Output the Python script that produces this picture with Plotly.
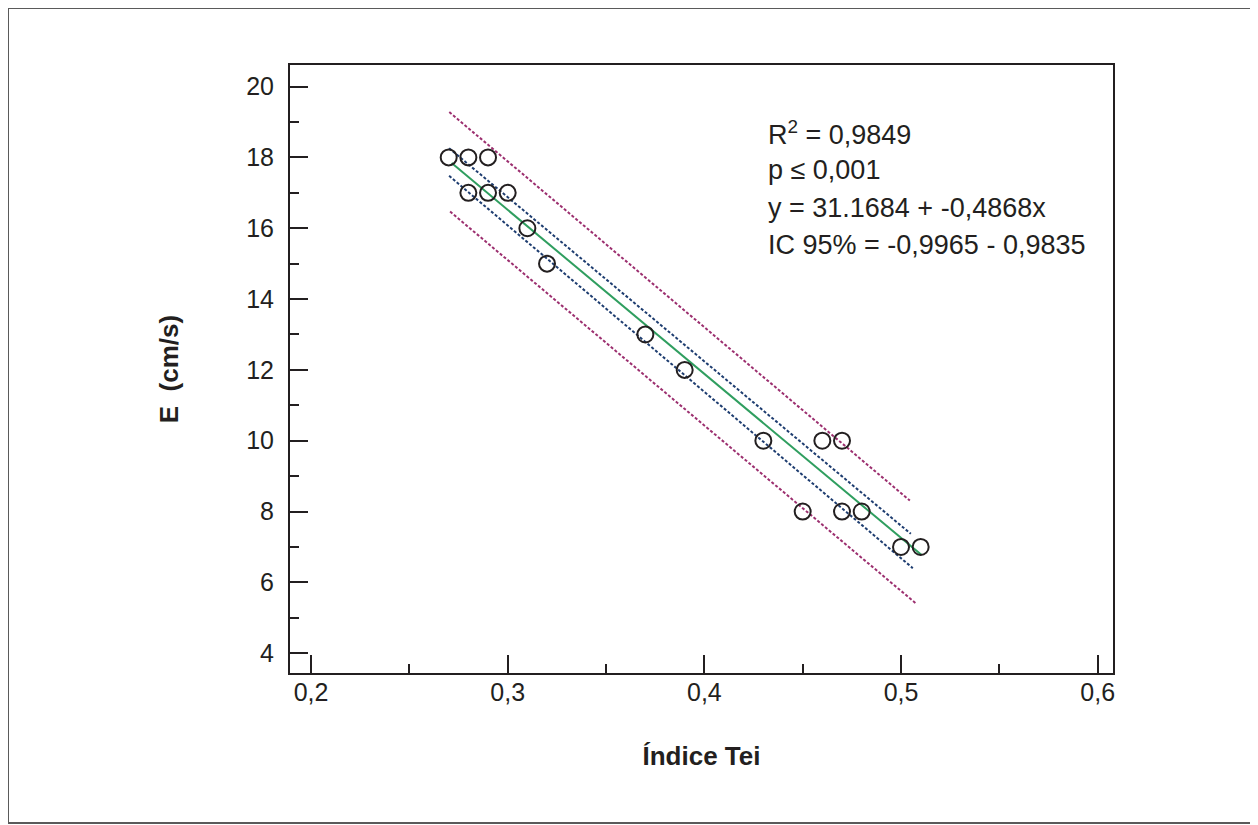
import plotly.graph_objects as go

# ---- data ----
x_tei = [0.27, 0.28, 0.29, 0.28, 0.29, 0.30, 0.31, 0.32, 0.37, 0.39,
         0.43, 0.46, 0.47, 0.45, 0.47, 0.48, 0.50, 0.51]
y_e = [18, 18, 18, 17, 17, 17, 16, 15, 13, 12,
       10, 10, 10, 8, 8, 8, 7, 7]

fit_x = [0.2715, 0.5105]
fit_y = [17.84, 6.77]

ci_up_x = [0.2702, 0.5050]
ci_up_y = [18.26, 7.37]
ci_lo_x = [0.2702, 0.5060]
ci_lo_y = [17.48, 6.40]

pi_up_x = [0.2703, 0.5045]
pi_up_y = [19.28, 8.31]
pi_lo_x = [0.2707, 0.5079]
pi_lo_y = [16.47, 5.39]

x_ticks = [0.2, 0.3, 0.4, 0.5, 0.6]
y_ticks = [4, 6, 8, 10, 12, 14, 16, 18, 20]

stats_lines = ["R<sup>2</sup> = 0,9849", "p \u2264 0,001",
               "y = 31.1684 + -0,4868x", "IC 95% = -0,9965 - 0,9835"]

# ---- figure (page body has an 8px margin, so all pixel positions are shifted) ----
OFF = 8
W, H = 1258 - OFF, 825 - OFF
L, T = 290 - OFF, 65 - OFF
R, B = W - (1113 - OFF), H - (673 - OFF)
pw, ph = W - L - R, H - T - B

FONT = "Liberation Sans, Arial, sans-serif"
INK = "#231f20"
GREEN = "#2f9e5f"
NAVY = "#1e3d70"
PURPLE = "#9c2f6f"
DASH = "3px,2px"

fig = go.Figure()
fig.add_trace(go.Scatter(x=pi_up_x, y=pi_up_y, mode="lines",
                         line=dict(color=PURPLE, width=2, dash=DASH), showlegend=False))
fig.add_trace(go.Scatter(x=pi_lo_x, y=pi_lo_y, mode="lines",
                         line=dict(color=PURPLE, width=2, dash=DASH), showlegend=False))
fig.add_trace(go.Scatter(x=ci_up_x, y=ci_up_y, mode="lines",
                         line=dict(color=NAVY, width=2, dash=DASH), showlegend=False))
fig.add_trace(go.Scatter(x=ci_lo_x, y=ci_lo_y, mode="lines",
                         line=dict(color=NAVY, width=2, dash=DASH), showlegend=False))
fig.add_trace(go.Scatter(x=fit_x, y=fit_y, mode="lines",
                         line=dict(color=GREEN, width=2), showlegend=False))
fig.add_trace(go.Scatter(x=x_tei, y=y_e, mode="markers",
                         marker=dict(symbol="circle-open", size=16, color=INK,
                                     line=dict(width=2, color=INK)),
                         showlegend=False))

axis_common = dict(showline=True, linecolor=INK, linewidth=2, mirror=True,
                   showgrid=False, zeroline=False, ticks="inside", tickwidth=2,
                   tickcolor=INK, ticklen=18,
                   tickfont=dict(family=FONT, size=25, color=INK))

fig.update_xaxes(range=[0.1893, 0.6078], tickvals=x_ticks, tickformat=".1f",
                 minor=dict(ticks="inside", ticklen=9, tickwidth=2, tickcolor=INK,
                            tickvals=[0.25, 0.35, 0.45, 0.55]),
                 ticklabelstandoff=-4,
                 title=dict(text="<b>Índice Tei</b>", standoff=42,
                            font=dict(family=FONT, size=26, color=INK)),
                 **axis_common)
fig.update_yaxes(range=[3.44, 20.61], tickvals=y_ticks,
                 minor=dict(ticks="inside", ticklen=9, tickwidth=2, tickcolor=INK,
                            tickvals=[5, 7, 9, 11, 13, 15, 17, 19]),
                 ticklabelstandoff=9,
                 title=dict(text="<b>E  (cm/s)</b>", standoff=60,
                            font=dict(family=FONT, size=26, color=INK)),
                 **axis_common)

line_px = [132.5, 170, 208, 245]
for txt, ypx in zip(stats_lines, line_px):
    fig.add_annotation(text=txt, xref="paper", yref="paper",
                       x=(766 - OFF - L) / pw, y=(H - B - (ypx - OFF)) / ph,
                       xanchor="left", yanchor="middle", showarrow=False,
                       font=dict(family=FONT, size=27, color=INK))

# outer frame
fig.add_shape(type="rect", xref="paper", yref="paper",
              x0=(8 - OFF - L) / pw, x1=(1270 - OFF - L) / pw,
              y0=-((823 - OFF) - (H - B)) / ph, y1=1 + (T - (8 - OFF)) / ph,
              line=dict(color="#5a5a5a", width=2))

fig.update_layout(width=W, height=H, margin=dict(l=L, r=R, t=T, b=B, autoexpand=False),
                  paper_bgcolor="white", plot_bgcolor="white", separators=",.",
                  font=dict(family=FONT, color=INK))

fig.write_html("out.html")
